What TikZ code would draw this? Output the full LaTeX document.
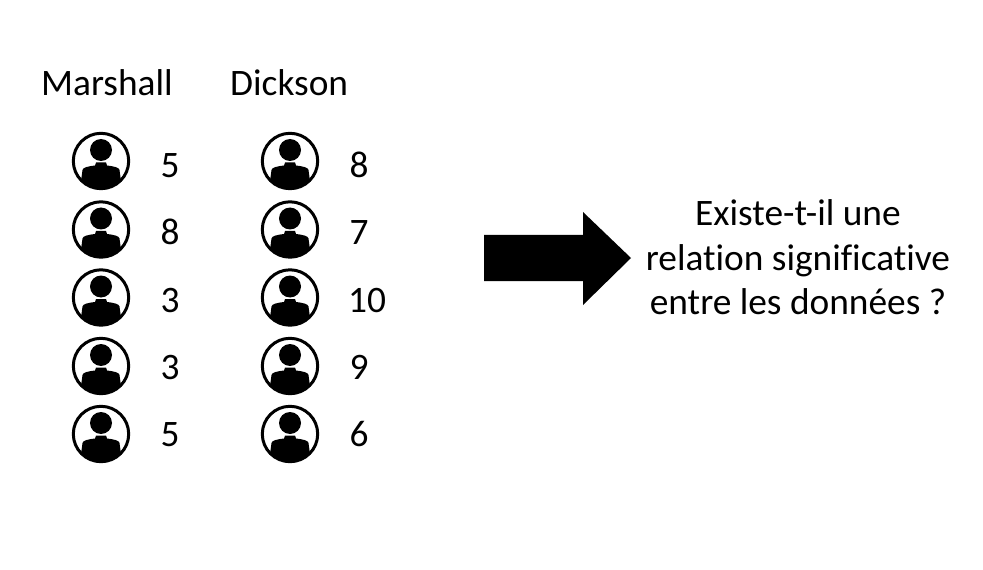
\documentclass[tikz,border=0pt]{standalone}
\usepackage{fontspec}
\setmainfont{Carlito}[Ligatures=NoCommon]
\tikzset{
  lbl/.style={inner sep=0pt,font=\fontsize{37.5}{44.5}\selectfont,text=black},
  person/.pic={
    \begin{scope}
      \clip (0,0) circle (28);
      \fill[black] (-20,33) -- (-20,20) -- (-18.5,9) .. controls (-18,6.5) and (-14,5.5) .. (-6,4.5) -- (-5,1.5) -- (5,1.5) -- (6,4.5) .. controls (14,5.5) and (18,6.5) .. (18.5,9) -- (20,20) -- (20,33) -- cycle;
    \end{scope}
    \fill[black] (0,-11) circle (11);
    \draw[black,line width=3] (0,0) circle (27.7);
  }
}
\begin{document}
\begin{tikzpicture}[x=1bp,y=-1bp]
\useasboundingbox (0,0) rectangle (983,570);
\fill[white] (0,0) rectangle (983,570);
\node[lbl,anchor=base west] (m) at (41,96) {Marshall};
\node[lbl,anchor=base west] (d) at (230,96) {Dickson};
\foreach \y/\t/\a/\b/\xb [count=\i] in {161/178/5/8/349.5,229.5/245/8/7/349.5,297.5/312/3/10/348,366/379/3/9/349.5,434/446/5/6/349.5}{
  \pic at (101,\y) {person};
  \pic at (290,\y) {person};
  \node[lbl,anchor=base] (a\i) at (170,\t) {\a};
  \node[lbl,anchor=base west] (b\i) at (\xb,\t) {\b};
}
\fill[black] (484,235) -- (583,235) -- (583,212) -- (631,258) -- (583,305) -- (583,281) -- (484,281) -- cycle;
\node[lbl,align=center,anchor=center] (q) at (798,257.5) {Existe-t-il une\\relation significative\\entre les données ?};
\end{tikzpicture}
\end{document}
